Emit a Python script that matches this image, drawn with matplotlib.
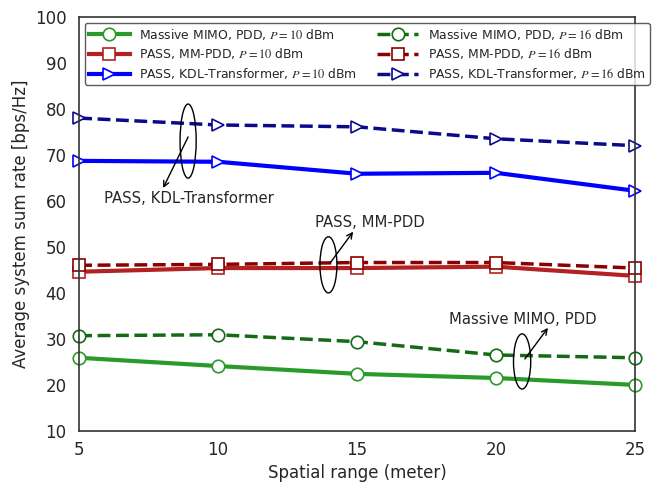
import matplotlib
matplotlib.use("Agg")
import matplotlib.pyplot as plt
from matplotlib.patches import Ellipse

plt.rcParams['mathtext.fontset'] = 'stix'
plt.rcParams['font.family'] = ['DejaVu Sans']
plt.rcParams['text.color'] = '#262626'
plt.rcParams['axes.labelcolor'] = '#262626'
plt.rcParams['xtick.color'] = '#262626'
plt.rcParams['ytick.color'] = '#262626'

x = [5, 10, 15, 20, 25]
mimo_10 = [25.9, 24.1, 22.4, 21.5, 20.0]
mimo_16 = [30.7, 30.9, 29.4, 26.5, 25.9]
mm_10 = [44.6, 45.4, 45.4, 45.7, 43.7]
mm_16 = [46.0, 46.2, 46.6, 46.6, 45.4]
kdl_10 = [68.7, 68.5, 65.9, 66.1, 62.2]
kdl_16 = [78.0, 76.5, 76.1, 73.5, 72.0]

fig = plt.figure(figsize=(6.6, 4.82), dpi=100)
ax = fig.add_axes([0.12, 0.106, 0.842, 0.859])

ms = 9
common = dict(ms=ms, mfc='white', mew=1.2, clip_on=False, zorder=3)
ax.plot(x, mimo_10, '-', color='#2a9a2a', lw=3, marker='o', mec='#2a9a2a',
        label='Massive MIMO, PDD, $P=10$ dBm', **common)
ax.plot(x, mm_10, '-', color='#b22222', lw=3, marker='s', mec='#b22222',
        label='PASS, MM-PDD, $P=10$ dBm', **common)
ax.plot(x, kdl_10, '-', color='blue', lw=3, marker='>', mec='blue',
        label='PASS, KDL-Transformer, $P=10$ dBm', **common)
ax.plot(x, mimo_16, '--', color='#156b15', lw=2.5, marker='o', mec='#156b15',
        label='Massive MIMO, PDD, $P=16$ dBm', **common)
ax.plot(x, mm_16, '--', color='#8b0000', lw=2.5, marker='s', mec='#8b0000',
        label='PASS, MM-PDD, $P=16$ dBm', **common)
ax.plot(x, kdl_16, '--', color='#0a0a8b', lw=2.5, marker='>', mec='#0a0a8b',
        label='PASS, KDL-Transformer, $P=16$ dBm', **common)

ax.set_xlim(5, 25)
ax.set_ylim(10, 100)
ax.set_xticks(x)
ax.set_yticks(range(10, 101, 10))
ax.tick_params(axis='both', labelsize=12, length=0)
ax.tick_params(axis='y', pad=9)
ax.tick_params(axis='x', pad=7)
for s in ax.spines.values():
    s.set_color('#333333')
    s.set_linewidth(1.2)
    s.set_zorder(3.5)
ax.set_xlabel('Spatial range (meter)', fontsize=12)
ax.set_ylabel('Average system sum rate [bps/Hz]', fontsize=12)

leg = ax.legend(ncol=2, loc='upper left', fontsize=8.9, handlelength=3.3, handletextpad=0.8,
                frameon=True, edgecolor='#333333', fancybox=True, borderpad=0.3,
                labelspacing=0.38, columnspacing=1.6, borderaxespad=0,
                bbox_to_anchor=(85 / 660, 1 - 23 / 482), bbox_transform=fig.transFigure)
leg.get_frame().set_linewidth(1.0)
leg.set_zorder(5)

# annotations
def ell(cx, cy, w, h):
    ax.add_patch(Ellipse((cx, cy), w, h, fill=False, ec='black', lw=1, zorder=4))

arrow = dict(arrowstyle='->', color='black', lw=1, shrinkA=0, shrinkB=0)

ell(8.92, 73.0, 0.58, 16.1)
ax.text(8.96, 60.6, 'PASS, KDL-Transformer', ha='center', va='center', fontsize=10.7, zorder=5)
ax.annotate('', xy=(8.02, 62.8), xytext=(8.92, 73.9), arrowprops=arrow)

ell(13.97, 46.1, 0.61, 12.2)
ax.text(15.47, 55.2, 'PASS, MM-PDD', ha='center', va='center', fontsize=10.7, zorder=5)
ax.annotate('', xy=(14.86, 53.3), xytext=(14.03, 46.5), arrowprops=arrow)

ell(20.94, 25.1, 0.62, 12.0)
ax.text(20.95, 34.3, 'Massive MIMO, PDD', ha='center', va='center', fontsize=10.7, zorder=5)
ax.annotate('', xy=(21.87, 32.4), xytext=(21.04, 25.65), arrowprops=arrow)

fig.savefig('out.png', dpi=100)
